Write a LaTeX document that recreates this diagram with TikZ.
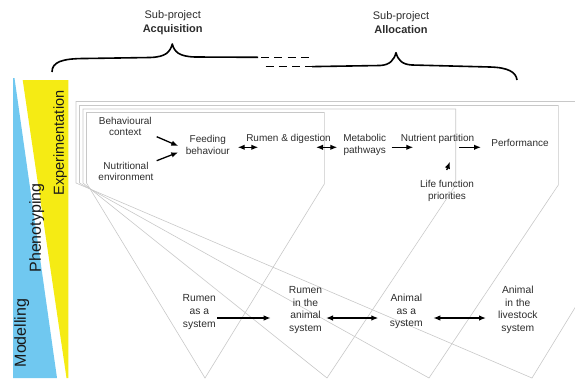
\documentclass[tikz,border=0pt]{standalone}
\usepackage{fontspec}
\setmainfont{Liberation Sans}
\usetikzlibrary{arrows.meta,calc}
\definecolor{skyb}{RGB}{112,200,240}
\definecolor{yel}{RGB}{245,235,20}
\definecolor{txt}{RGB}{45,45,45}
\definecolor{frm}{RGB}{200,200,200}
\begin{document}
\begin{tikzpicture}[x=1pt,y=-1pt,
  lbl/.style={inner sep=0pt, align=center, text=txt, font=\fontsize{10}{11.7}\selectfont},
  blbl/.style={inner sep=0pt, align=center, text=txt, font=\fontsize{10.3}{12.6}\selectfont},
  toplbl/.style={inner sep=0pt, align=center, text=txt, font=\fontsize{11}{14.3}\selectfont},
  vlbl/.style={rotate=90, inner sep=0pt, text=black!90},
  frame/.style={draw=frm, line width=0.6pt, line join=miter},
  arr/.style={line width=1.3pt, -{Latex[length=7pt,width=5.5pt]}},
  darr/.style={line width=1.3pt, {Latex[length=7pt,width=5.5pt]}-{Latex[length=7pt,width=5.5pt]}},
  brace/.style={line width=1.6pt, line cap=butt, line join=round}
]
\useasboundingbox (0,0) rectangle (575,378);
\clip (0,0) rectangle (575,378);

% coloured bands
\fill[skyb] (13,78) -- (14.5,78) -- (57,378) -- (13,378) -- cycle;
\fill[yel] (22.7,80) -- (68.3,80) -- (68.3,378) -- (66.5,378) -- cycle;
\node[vlbl, font=\fontsize{14.5}{14.5}\selectfont] (exp) at (60,143) {Experimentation};
\node[vlbl, font=\fontsize{16}{16}\selectfont] (phe) at (36.7,228) {Phenotyping};
\node[vlbl, font=\fontsize{16}{16}\selectfont] (mod) at (21.7,333) {Modelling};

% frames
\draw[frame] (205,378) -- (86.5,183) -- (86.5,112.5) -- (324.3,112.5) -- (324.3,184) -- cycle;
\draw[frame] (327,378) -- (83,183) -- (83,109) -- (455.7,109) -- (455.7,185) -- cycle;
\draw[frame] (429,378) -- (79.5,183) -- (79.5,105.5) -- (558.3,105.5) -- (558.3,185) -- cycle;
\draw[frame] (532,378) -- (76,183) -- (76,101.5) -- (650,101.5) -- (650,185) -- cycle;

% braces
\draw[brace] (52,72) .. controls (52,62) and (62,58.5) .. (85,58.5) -- (150,57.5)
  .. controls (166,57) and (170,52) .. (172.3,44)
  .. controls (174.5,52) and (179,56.5) .. (195,57) -- (258,57.3);
\draw[brace, dash pattern=on 8pt off 5.3pt] (261,57.5) -- (309,57.5);
\draw[brace, dash pattern=on 8pt off 5.3pt] (265.5,66.6) -- (312,66.6);
\draw[brace] (312,66.6) -- (380,65.5) .. controls (390,65) and (394,60) .. (396,52.7)
  .. controls (398,60) and (402,64.5) .. (412,65) -- (490,67)
  .. controls (508,67.5) and (516,72) .. (517,80);
\node[toplbl] (acq) at (172.7,22.8) {Sub-project\\\textbf{Acquisition}};
\node[toplbl] (alloc) at (401,22.8) {Sub-project\\\textbf{Allocation}};

% upper row
\node[lbl] (beh) at (125.3,126.5) {Behavioural\\context};
\node[lbl] (nut) at (126,171.5) {Nutritional\\environment};
\node[lbl] (feed) at (207.8,145) {Feeding\\behaviour};
\node[lbl] (rum) at (288.5,139) {Rumen \& digestion};
\node[lbl] (met) at (364.7,145) {Metabolic\\pathways};
\node[lbl] (nutp) at (437.5,139) {Nutrient partition};
\node[lbl] (perf) at (520,143.3) {Performance};
\node[lbl] (life) at (447,191) {Life function\\priorities};

\draw[arr] ($(beh)+(31.4,10.2)$) -- ($(feed)+(-29.5,1)$);
\draw[arr] ($(nut)+(30.7,-10.8)$) -- ($(feed)+(-29.5,7.3)$);
\draw[darr] ($(feed)+(29.9,2.3)$) -- ($(rum)+(-30.2,8.3)$);
\draw[darr] ($(rum)+(27.5,8.3)$) -- ($(met)+(-27.4,2.3)$);
\draw[arr] ($(met)+(27,2.3)$) -- ($(nutp)+(-24.2,8.3)$);
\draw[arr] ($(nutp)+(21.8,8.3)$) -- ($(perf)+(-39,4)$);
\draw[arr] ($(life)+(-0.3,-21)$) -- ($(nutp)+(12.5,22.7)$);

% lower row
\node[blbl] (ras) at (199.3,312) {Rumen\\as a\\system};
\node[blbl] (ria) at (305.5,310) {Rumen\\in the\\animal\\system};
\node[blbl] (aas) at (406.3,311.7) {Animal\\as a\\system};
\node[blbl] (ail) at (517.8,310) {Animal\\in the\\livestock\\system};

\draw[arr] ($(ras)+(18,6)$) -- ($(ria)+(-34.8,8)$);
\draw[darr] ($(ria)+(20.5,8)$) -- ($(aas)+(-28,6.3)$);
\draw[darr] ($(aas)+(27,6.3)$) -- ($(ail)+(-31.8,8)$);
\end{tikzpicture}
\end{document}
